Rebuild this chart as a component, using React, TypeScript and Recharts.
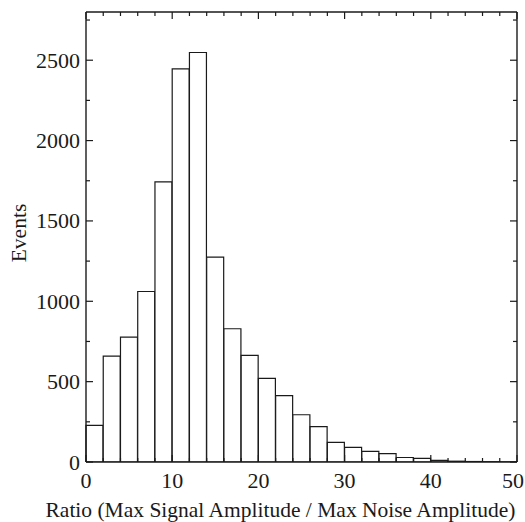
import React from "react";
import { ComposedChart, Bar, XAxis, YAxis, Label } from "recharts";

const binStarts = [0, 2, 4, 6, 8, 10, 12, 14, 16, 18, 20, 22, 24, 26, 28, 30, 32, 34, 36, 38, 40, 42, 44, 46, 48];
const binWidth = 2;
const events = [228, 659, 777, 1061, 1743, 2446, 2548, 1275, 829, 663, 520, 413, 294, 220, 122, 91, 66, 52, 28, 22, 10, 5, 3, 2, 1];
const xTicks = [0, 2, 4, 6, 8, 10, 12, 14, 16, 18, 20, 22, 24, 26, 28, 30, 32, 34, 36, 38, 40, 42, 44, 46, 48, 50];
const yTicks = [0, 250, 500, 750, 1000, 1250, 1500, 1750, 2000, 2250, 2500, 2750];
const xLabel = "Ratio (Max Signal Amplitude / Max Noise Amplitude)";
const yLabel = "Events";

const data = binStarts.map((s, i) => ({ bin: String(s), center: s + binWidth / 2, events: events[i] }));

const FONT = "'Liberation Serif', 'Times New Roman', Times, serif";
const INK = "#1a1a1a";
const MAJOR = 7;
const MINOR = 4;
const TICK_FS = 22;
const LABEL_FS = 21.5;
const tickText: React.CSSProperties = { fontSize: `${TICK_FS}px`, fontFamily: FONT, fill: INK };
const labelText: React.CSSProperties = { fontSize: `${LABEL_FS}px`, fontFamily: FONT, fill: INK };

const BottomTick = (props: any) => {
  const { x, y, payload } = props;
  const v = payload.value;
  const major = v % 10 === 0;
  const shift = v === 50 ? -4 : 0;
  return (
    <g>
      <line x1={x} x2={x} y1={y} y2={y - (major ? MAJOR : MINOR)} stroke={INK} strokeWidth={1.2} />
      {major && (
        <text x={x + shift} y={y + 26} textAnchor="middle" fontSize={TICK_FS} fontFamily={FONT} fill={INK} style={tickText}>
          {v}
        </text>
      )}
    </g>
  );
};

const TopTick = (props: any) => {
  const { x, y, payload } = props;
  const major = payload.value % 10 === 0;
  return <line x1={x} x2={x} y1={y} y2={y + (major ? MAJOR : MINOR)} stroke={INK} strokeWidth={1.2} />;
};

const LeftTick = (props: any) => {
  const { x, y, payload } = props;
  const v = payload.value;
  const major = v % 500 === 0;
  return (
    <g>
      <line x1={x} x2={x + (major ? MAJOR : MINOR)} y1={y} y2={y} stroke={INK} strokeWidth={1.2} />
      {major && (
        <text x={x - 6} y={y + 7.5} textAnchor="end" fontSize={TICK_FS} fontFamily={FONT} fill={INK} style={tickText}>
          {v}
        </text>
      )}
    </g>
  );
};

const RightTick = (props: any) => {
  const { x, y, payload } = props;
  const major = payload.value % 500 === 0;
  return <line x1={x} x2={x - (major ? MAJOR : MINOR)} y1={y} y2={y} stroke={INK} strokeWidth={1.2} />;
};

export default function App() {
  return (
    <div style={{ position: "absolute", left: 0, top: 0, fontFamily: FONT }}>
      <ComposedChart width={525} height={522} data={data} margin={{ top: 11, right: 7, bottom: 0, left: 0 }} barCategoryGap={0} barGap={0}>
        <XAxis xAxisId="cat" dataKey="bin" hide height={0} />
        <XAxis
          xAxisId="num"
          type="number"
          dataKey="center"
          domain={[0, 50]}
          ticks={xTicks}
          interval={0}
          tickSize={0}
          tickMargin={0}
          tickLine={false}
          tick={BottomTick}
          height={60}
          axisLine={{ stroke: INK, strokeWidth: 1.4 }}
          allowDataOverflow
        >
          <Label
            content={(p: any) => {
              const vb = p.viewBox;
              return (
                <text x={vb.x + vb.width / 2 - 21} y={vb.y + 54.5} textAnchor="middle" fontSize={LABEL_FS} fontFamily={FONT} fill={INK} style={labelText}>
                  {xLabel}
                </text>
              );
            }}
          />
        </XAxis>
        <XAxis
          xAxisId="top"
          orientation="top"
          type="number"
          dataKey="center"
          domain={[0, 50]}
          ticks={xTicks}
          interval={0}
          tickSize={0}
          tickMargin={0}
          tickLine={false}
          tick={TopTick}
          height={1}
          axisLine={{ stroke: INK, strokeWidth: 1.4 }}
          allowDataOverflow
        />
        <YAxis
          yAxisId="left"
          domain={[0, 2800]}
          ticks={yTicks}
          interval={0}
          tickSize={0}
          tickMargin={0}
          tickLine={false}
          tick={LeftTick}
          width={86}
          axisLine={{ stroke: INK, strokeWidth: 1.4 }}
          allowDataOverflow
        >
          <Label
            content={(p: any) => {
              const vb = p.viewBox;
              const cx = 26;
              const cy = vb.y + vb.height / 2 - 4;
              return (
                <text x={cx} y={cy} transform={`rotate(-90, ${cx}, ${cy})`} textAnchor="middle" fontSize={LABEL_FS} fontFamily={FONT} fill={INK} style={labelText}>
                  {yLabel}
                </text>
              );
            }}
          />
        </YAxis>
        <YAxis
          yAxisId="right"
          orientation="right"
          domain={[0, 2800]}
          ticks={yTicks}
          interval={0}
          tickSize={0}
          tickMargin={0}
          tickLine={false}
          tick={RightTick}
          width={1}
          axisLine={{ stroke: INK, strokeWidth: 1.4 }}
          allowDataOverflow
        />
        <Bar xAxisId="cat" yAxisId="left" dataKey="events" fill="#ffffff" stroke={INK} strokeWidth={1.2} isAnimationActive={false} />
      </ComposedChart>
    </div>
  );
}
